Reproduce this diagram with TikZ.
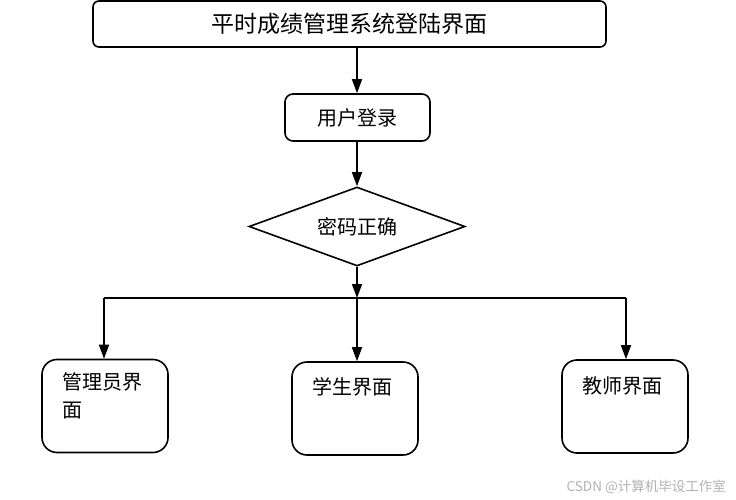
\documentclass[tikz,border=0pt]{standalone}
\usepackage{fontspec}
\setmainfont{Noto Sans CJK SC}
\newfontfamily\cjk{Noto Sans CJK SC}
\usetikzlibrary{arrows.meta,shapes.geometric}
\begin{document}
\begin{tikzpicture}[x=1pt,y=-1pt,
  every node/.style={font=\cjk},
  topbox/.style={draw,line width=1.6pt,rounded corners=6pt,inner sep=0pt},
  boxb/.style={draw,line width=1.6pt,rounded corners=15pt,inner sep=0pt,minimum width=126pt,minimum height=93pt},
  arr/.style={line width=1.6pt,-{Triangle[width=10pt,length=14pt]}},
  lbl/.style={font=\cjk\fontsize{20pt}{28pt}\selectfont,inner sep=0pt}
]
\useasboundingbox (0,0) rectangle (736,500);
\node[topbox,minimum width=513pt,minimum height=46pt,font=\cjk\fontsize{23pt}{26pt}\selectfont] (t) at (349.5,24) {平时成绩管理系统登陆界面};
\node[topbox,rounded corners=8pt,minimum width=145pt,minimum height=47pt,font=\cjk\fontsize{20pt}{24pt}\selectfont] (u) at (357.5,117.5) {用户登录};
\node[diamond,aspect=2.73,draw,line width=1.6pt,inner sep=0pt,minimum width=216pt,minimum height=79pt,font=\cjk\fontsize{20pt}{24pt}\selectfont] (d) at (357,226.5) {密码正确};
\coordinate (split) at (357,298);
\node[boxb] (b1) at (105,406) {};
\node[boxb] (b2) at (355,408.5) {};
\node[boxb] (b3) at (625,406.5) {};
\node[lbl,anchor=north west,align=left] (l1) at (62,372) {管理员界\\面};
\node[lbl] (l2) at (352,387) {学生界面};
\node[lbl] (l3) at (622,386) {教师界面};
\draw[arr] (t.south -| u.north) ++(-0.5,0) coordinate (ts) (ts) -- (u.north -| ts);
\draw[arr] (u.south -| d.north) -- (d.north);
\draw[arr] (d.south) -- (split);
\draw[line width=1.6pt] (split) -- (104,298) coordinate (lc);
\draw[line width=1.6pt] (split) -- (626,298) coordinate (rc);
\draw[arr] (lc) -- (b1.north -| lc);
\draw[arr] (split) -- (b2.north -| split);
\draw[arr] (rc) -- (b3.north -| rc);
\node[anchor=east,inner sep=0pt,text=black!30,font=\cjk\fontsize{13.5pt}{15pt}\selectfont] (wm) at (726,487) {CSDN @计算机毕设工作室};
\end{tikzpicture}
\end{document}
